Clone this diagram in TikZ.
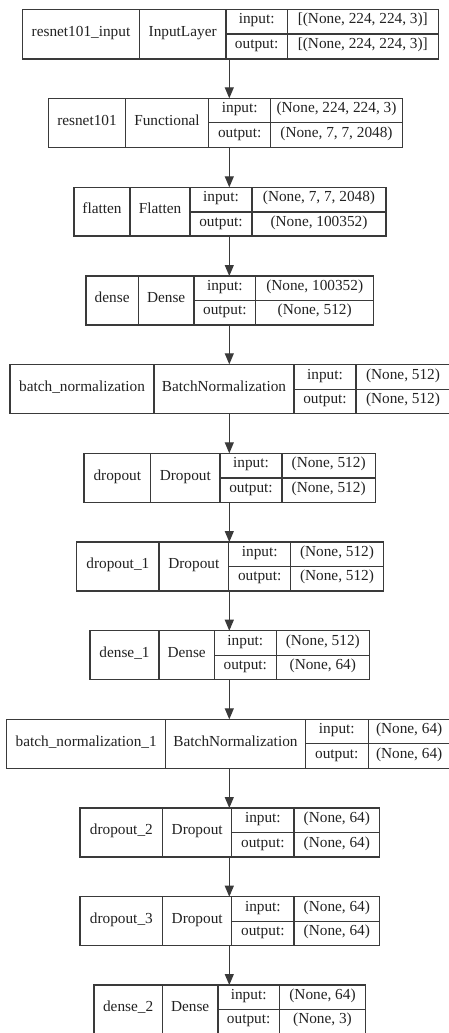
\documentclass[tikz,border=0pt]{standalone}
\usepackage{fontspec}
\setmainfont{Liberation Serif}
\usetikzlibrary{fit,arrows.meta}
\definecolor{linec}{HTML}{3A3A3A}
\definecolor{textc}{HTML}{222222}
\tikzset{
  layerbox/.style={draw=linec, line width=1.1pt, inner sep=0pt, outer sep=0pt},
  cellline/.style={draw=linec, line width=1.1pt},
  lbl/.style={text=textc, inner sep=0pt, anchor=center, text height=0.68em, text depth=0.22em,
    font=\fontsize{15.3}{18}\selectfont},
  arr/.style={draw=linec, line width=1.1pt, -{Triangle[length=11pt,width=9pt]}},
}
\newcommand\layerbox[9]{%
  \node[layerbox, fit={(#2,#7) (#6,#9)}] (#1) {};
  \draw[cellline] (#3,#7) -- (#3,#9) (#4,#7) -- (#4,#9) (#5,#7) -- (#5,#9) (#4,#8) -- (#6,#8);
  \coordinate (#1-n) at ({(#2+#3)/2},{(#7+#9)/2});
  \coordinate (#1-c) at ({(#3+#4)/2},{(#7+#9)/2});
  \coordinate (#1-i) at ({(#4+#5)/2},{(#7+#8)/2});
  \coordinate (#1-o) at ({(#4+#5)/2},{(#8+#9)/2});
  \coordinate (#1-iv) at ({(#5+#6)/2},{(#7+#8)/2});
  \coordinate (#1-ov) at ({(#5+#6)/2},{(#8+#9)/2});
}
\newcommand\layertext[5]{%
  \node[lbl] (#1-nt) at (#1-n) {#2};
  \node[lbl] (#1-ct) at (#1-c) {#3};
  \node[lbl] (#1-it) at (#1-i) {input:};
  \node[lbl] (#1-ot) at (#1-o) {output:};
  \node[lbl] (#1-ivt) at (#1-iv) {#4};
  \node[lbl] (#1-ovt) at (#1-ov) {#5};
}
\begin{document}
\begin{tikzpicture}[x=1pt,y=-1pt]
\useasboundingbox (0,0) rectangle (449,1033);
\clip (0,0) rectangle (449,1033);
\fill[white] (0,0) rectangle (449,1033);
\coordinate (ax) at (229.3,0);

\layerbox{l1}{22.7}{139.3}{226}{287.3}{438.3}{9.3}{34}{59}
\layertext{l1}{resnet101\_input}{InputLayer}{[(None, 224, 224, 3)]}{[(None, 224, 224, 3)]}

\layerbox{l2}{48.7}{125.3}{208.7}{270.7}{402.3}{98.3}{122.3}{147.3}
\layertext{l2}{resnet101}{Functional}{(None, 224, 224, 3)}{(None, 7, 7, 2048)}

\layerbox{l3}{74}{130}{190}{252}{386}{187.3}{212}{236}
\layertext{l3}{flatten}{Flatten}{(None, 7, 7, 2048)}{(None, 100352)}

\layerbox{l4}{86}{138.3}{194}{255.7}{373.7}{276}{300.3}{325}
\layertext{l4}{dense}{Dense}{(None, 100352)}{(None, 512)}

\layerbox{l5}{10}{154}{294}{356}{450}{364.3}{389.3}{413.3}
\layertext{l5}{batch\_normalization}{BatchNormalization}{(None, 512)}{(None, 512)}

\layerbox{l6}{84}{150.7}{220}{282}{375.3}{453.3}{478}{502.3}
\layertext{l6}{dropout}{Dropout}{(None, 512)}{(None, 512)}

\layerbox{l7}{76.7}{159}{228.7}{290.7}{383.3}{542}{566.3}{591}
\layertext{l7}{dropout\_1}{Dropout}{(None, 512)}{(None, 512)}

\layerbox{l8}{90}{159}{214.3}{276.3}{369.3}{630.7}{655.3}{679.3}
\layertext{l8}{dense\_1}{Dense}{(None, 512)}{(None, 64)}

\layerbox{l9}{6.7}{165.7}{305.3}{368.3}{450}{719.3}{743.7}{768.3}
\layertext{l9}{batch\_normalization\_1}{BatchNormalization}{(None, 64)}{(None, 64)}

\layerbox{l10}{80}{162.7}{231.7}{294}{379.7}{808}{832.7}{857}
\layertext{l10}{dropout\_2}{Dropout}{(None, 64)}{(None, 64)}

\layerbox{l11}{80}{162.7}{231.7}{294}{379.7}{896.7}{921.3}{945.7}
\layertext{l11}{dropout\_3}{Dropout}{(None, 64)}{(None, 64)}

\layerbox{l12}{94}{162.3}{218}{279.3}{365.7}{985}{1009.3}{1034}
\layertext{l12}{dense\_2}{Dense}{(None, 64)}{(None, 3)}

\foreach \a/\b in {l1/l2,l2/l3,l3/l4,l4/l5,l5/l6,l6/l7,l7/l8,l8/l9,l9/l10,l10/l11,l11/l12}{
  \draw[arr] (\a.south -| ax) -- (\b.north -| ax);
}
\end{tikzpicture}
\end{document}
